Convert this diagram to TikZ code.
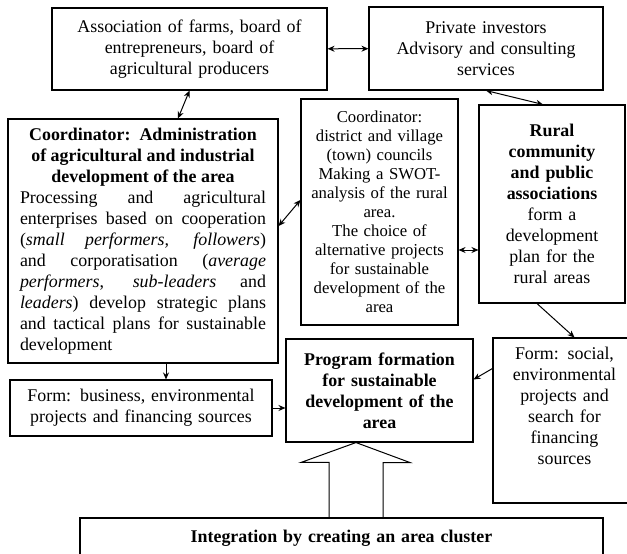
\documentclass[tikz,border=0pt]{standalone}
\usepackage{fontspec}
\setmainfont{Liberation Serif}
\usetikzlibrary{calc,arrows.meta}

\begin{document}
\begin{tikzpicture}[x=1pt,y=-1pt]
  \useasboundingbox (0,0) rectangle (627,554);
  \begin{scope}[every node/.style={rectangle,draw,line width=1.1pt,align=center,inner sep=0pt,font=\fontsize{17.9}{21}\selectfont}]
      \node[minimum width=275pt,minimum height=82pt,text width=262pt] (11) at (189.5,49)
        {Association of farms, board of\\ entrepreneurs, board of\\ agricultural producers};
      \node[minimum width=234pt,minimum height=83pt,text width=220pt] (12) at (486,48.5)
        {Private investors\\ Advisory and consulting\\ services};

      \node[minimum width=270pt,minimum height=244pt,text width=246pt,align=justify] (21) at (143,241)
        {{\centering\bfseries Coordinator:\ \ Administration\\ of agricultural and industrial\\ development of the area\par}%
         \noindent Processing and agricultural\linebreak
         enterprises based on cooperation\linebreak
         (\textit{small performers, followers})\linebreak
         and corporatisation (\textit{average}\linebreak
         \textit{performers}, \textit{sub-leaders} and\linebreak
         \textit{leaders}) develop strategic plans\linebreak
         and tactical plans for sustainable\linebreak
         development};
      \node[minimum width=157pt,minimum height=226pt,text width=147pt,font=\fontsize{16.7}{19}\selectfont] (22) at (379.5,212)
        {Coordinator:\\ district and village\\ (town) councils\\ Making a SWOT-\\ analysis of the rural\\ area.\\
         The choice of\\ alternative projects\\ for sustainable\\ development of the\\ area};
      \node[minimum width=146pt,minimum height=198pt,text width=136pt] (23) at (552,204)
        {\textbf{Rural}\\ \textbf{community}\\ \textbf{and public}\\ \textbf{associations}\\ form a\\ development\\ plan for the\\ rural areas};

      \node[minimum width=262pt,minimum height=56pt,text width=250pt] (31) at (141,408)
        {Form: business, environmental\\ projects and financing sources};
      \node[minimum width=187pt,minimum height=103pt,text width=177pt,font=\fontsize{17.9}{21}\selectfont\bfseries] (32) at (379.5,390.5)
        {Program formation\\ for sustainable\\ development of the\\ area};
      \node[minimum width=143pt,minimum height=165pt,text width=133pt] (33) at (564.5,420.5)
        {Form: social,\\ environmental\\ projects and\\ search for\\ financing\\ sources\\[9pt]\mbox{}};

      \node[minimum width=523pt,minimum height=40pt,text width=500pt,font=\fontsize{17.9}{21}\selectfont\bfseries] (41) at (341.5,538)
        {Integration by creating an area cluster};
  \end{scope}

  \tikzset{both arc/.style={{Stealth[length=7pt,width=6pt]}-{Stealth[length=7pt,width=6pt]}, black, line width=1pt},
           one arc/.style={-{Stealth[length=7pt,width=6pt]}, black, line width=1pt}}

  \draw[both arc] (11) -- (12);
  \draw[both arc] (11.south) -- ($(21.north)+(35,0)$);
  \draw[both arc] (12.south) -- ($(23.north)+(-9,0)$);

  \draw[both arc] ($(21.east)+(0,-15)$) -- ($(22.west)+(0,-12)$);
  \draw[both arc] ($(22.east)+(0,38)$) -- ($(23.west)+(0,46)$);

  \draw[one arc] ($(21.south)+(23,0)$) -- ($(31.north)+(25,0)$);
  \draw[one arc] (31.east) -- (31.east -| 32.west);
  \draw[one arc] ($(23.south)+(-15,0)$) -- ($(33.north)+(10,0)$);
  \draw[one arc] ($(33.west)+(0,-52)$) -- ($(32.east)+(0,-11)$);

  \coordinate (tip) at ($(32.south)+(-23.5,0)$);
  \draw[line width=1pt] ($(41.north -| tip)+(-27,0)$) -- ++(0,-55) -- ++(-28,0) -- (tip)
    -- ++(54,20) -- ++(-27,0) -- (41.north -| 383,0);

\end{tikzpicture}
\end{document}
